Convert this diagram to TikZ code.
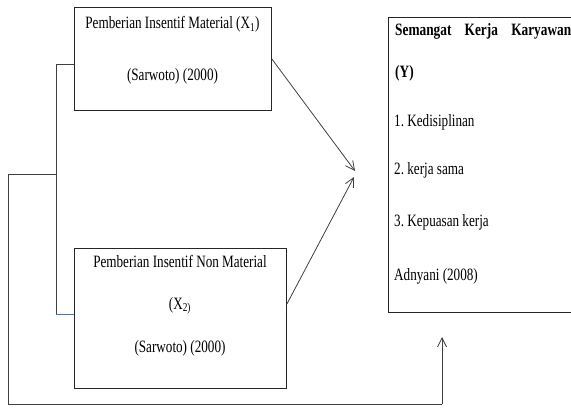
\documentclass[tikz,border=0pt]{standalone}
\usepackage{fontspec}
\setmainfont{Liberation Serif}[FakeStretch=0.76,BoldFeatures={FakeStretch=0.77}]
\usetikzlibrary{arrows.meta}
\definecolor{lineblue}{RGB}{68,114,196}
\frenchspacing
\begin{document}
\begin{tikzpicture}[x=1pt,y=-1pt,
  box/.style={draw=black!85,line width=0.9pt,inner sep=0pt,anchor=north west},
  txt/.style={inner sep=0pt,font=\fontsize{17.3}{20}\selectfont},
  conn/.style={draw=black!75,line width=0.8pt},
  arr/.style={conn,-{Straight Barb[length=9pt,width=9pt,line width=0.8pt]}}]
\useasboundingbox (0,0) rectangle (571,409);
\clip (0,0) rectangle (571,409);
% boxes
\node[box,minimum width=197pt,minimum height=103pt] (b1) at (74,7) {};
\node[box,minimum width=212pt,minimum height=140pt] (b2) at (74,248) {};
\node[box,minimum width=230pt,minimum height=295pt] (by) at (388,17) {};
% box 1 texts
\node[txt,anchor=base] (t1a) at (172.5,29) {Pemberian Insentif Material (X\textsubscript{1})};
\node[txt,anchor=base] (t1b) at (172.5,81) {(Sarwoto) (2000)};
% box 2 texts
\node[txt,anchor=base] (t2a) at (180,268) {Pemberian Insentif Non Material};
\node[txt,anchor=base] (t2b) at (180,309) {(X\textsubscript{2)}};
\node[txt,anchor=base] (t2c) at (180,352) {(Sarwoto) (2000)};
% box Y texts
\node[txt,anchor=base west,font=\fontsize{17.3}{20}\selectfont\bfseries] (ty1) at (395,36) {\makebox[176pt][s]{Semangat\hfill Kerja\hfill Karyawan}};
\node[txt,anchor=base west,font=\fontsize{17.3}{20}\selectfont\bfseries] (ty2) at (395,78) {(Y)};
\node[txt,anchor=base west] (ty3) at (394,127) {1. Kedisiplinan};
\node[txt,anchor=base west] (ty4) at (394,175) {2. kerja sama};
\node[txt,anchor=base west] (ty5) at (394,227) {3. Kepuasan kerja};
\node[txt,anchor=base west] (ty6) at (394,280) {Adnyani (2008)};
% coordinates
\coordinate (j1) at (56,64);
\coordinate (j2) at (56,314);
\coordinate (j3) at (56,174);
\coordinate (k1) at (8,174);
\coordinate (k2) at (8,404);
\coordinate (k3) at (442,404);
\coordinate (tipA) at (355,171);
\coordinate (tipB) at (354,177);
\coordinate (tipC) at (442,337);
% connectors
\draw[conn] (b1.west |- j1) -- (j1) -- (j2);
\draw[conn,draw=lineblue] (j2) -- (b2.west |- j2);
\draw[conn] (j3) -- (k1) -- (k2) -- (k3);
\draw[arr] (k3) -- (tipC);
\draw[arr] (b1.east |- 0,59) -- (tipA);
\draw[arr] (b2.east |- 0,304) -- (tipB);
\end{tikzpicture}
\end{document}
